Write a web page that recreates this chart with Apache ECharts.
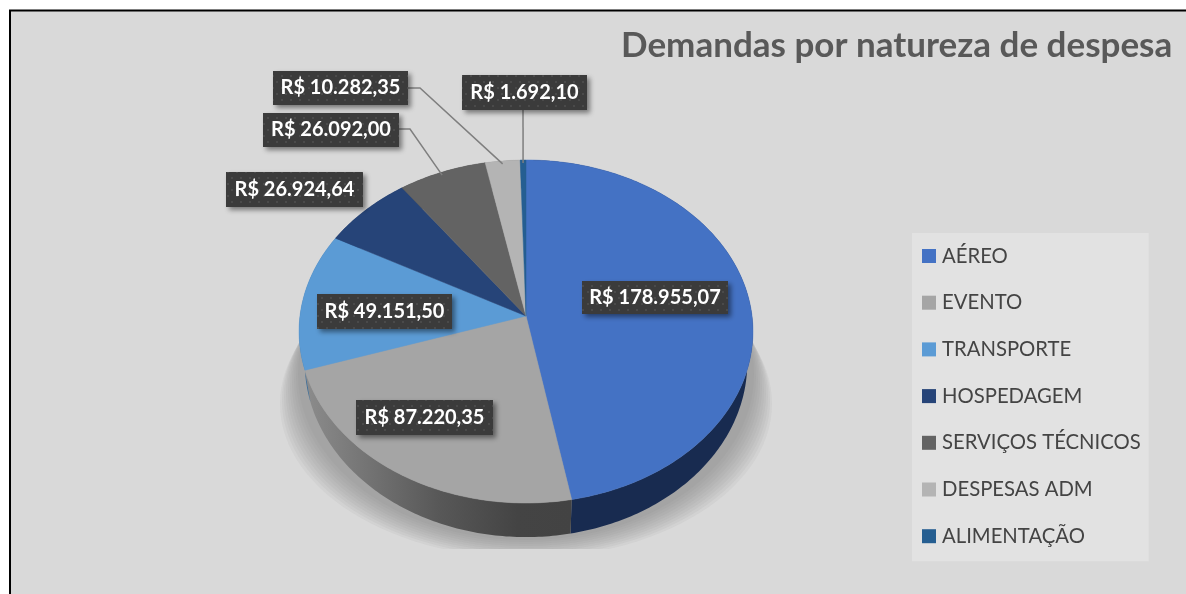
<!DOCTYPE html>
<html>
<head>
<meta charset="utf-8">
<title>Demandas por natureza de despesa</title>
<script src="https://cdn.jsdelivr.net/npm/echarts@6/dist/echarts.min.js"></script>
<style>
    html, body { margin: 0; padding: 0; background: #fff; }
    #chart { width: 1186px; height: 594px; }
</style>
</head>
<body>
<div id="chart"></div>
<script>
var categories = ['AÉREO', 'EVENTO', 'TRANSPORTE', 'HOSPEDAGEM', 'SERVIÇOS TÉCNICOS', 'DESPESAS ADM', 'ALIMENTAÇÃO'];
var values = [178955.07, 87220.35, 49151.50, 26924.64, 26092.00, 10282.35, 1692.10];
var valueLabels = ['R$ 178.955,07', 'R$ 87.220,35', 'R$ 49.151,50', 'R$ 26.924,64', 'R$ 26.092,00', 'R$ 10.282,35', 'R$ 1.692,10'];

var sliceColors = ['#4472c4', '#a5a5a5', '#5b9bd5', '#264478', '#636363', '#b4b4b4', '#255e91'];
var wallColors = ['#182b50', null, '#3f6d96', '#1a2f55', '#444444', '#7c7c7c', '#1a4266'];

// caixas dos rotulos: x, y, largura, altura
var labelBoxes = [
    [582, 281, 146, 33],
    [356, 400, 137, 35],
    [317, 294, 135, 35],
    [226, 172, 137, 35],
    [263, 113, 136, 34],
    [273, 71, 135, 34],
    [462, 75, 125, 35]
];
var leaderStarts = [null, null, null, null, [[399, 129], [410, 129]], [[408, 88], [420, 88]], [[523, 110]]];

// pizza em perspectiva
var pie = { cx: 526, cy: 316, r: 226, k: 170.1, p: 0.0904, depth: 31, bottomScale: 0.975 };

var total = 0;
values.forEach(function (v) { total += v; });

function project(angle, lower) {
    var sx = Math.sin(angle), cy = Math.cos(angle);
    var f = 1 / (1 + pie.p * cy);
    var x = pie.r * sx * f, y = pie.cy - pie.k * cy * f;
    if (lower) {
        x *= pie.bottomScale;
        y += pie.depth * f;
    }
    return [pie.cx + x, y];
}

function arcPoints(start, end, lower) {
    var pts = [], n = Math.max(2, Math.ceil((end - start) / 0.015));
    for (var i = 0; i <= n; i++) {
        pts.push(project(start + (end - start) * i / n, lower));
    }
    return pts;
}

function sliceAngles(index) {
    var before = 0;
    for (var i = 0; i < index; i++) before += values[i];
    return [before / total * Math.PI * 2, (before + values[index]) / total * Math.PI * 2];
}

// textura pontilhada dos rotulos
var tile = document.createElement('canvas');
tile.width = 9;
tile.height = 12;
var tileCtx = tile.getContext('2d');
tileCtx.fillStyle = '#3b3b3b';
tileCtx.fillRect(0, 0, 9, 12);
tileCtx.fillStyle = '#4a4a4a';
tileCtx.fillRect(2, 3, 2, 2);
tileCtx.fillRect(6, 9, 2, 2);

function renderSlice(i, api) {
    var a = sliceAngles(i);
    var mid = (a[0] + a[1]) / 2;
    var top = arcPoints(a[0], a[1], false);
    var bottom = arcPoints(a[0], a[1], true).reverse();
    var wallFill = wallColors[i] || {
        type: 'linear', x: 305, y: 0, x2: 571, y2: 0, global: true,
        colorStops: [{ offset: 0, color: '#8c8c8c' }, { offset: 0.5, color: '#585858' }, { offset: 0.8, color: '#444444' }, { offset: 1, color: '#434343' }]
    };
    var color = api.visual('color');
    var box = labelBoxes[i];
    var children = [
        { type: 'polygon', z2: 1, shape: { points: top.concat(bottom) }, style: { fill: wallFill } },
        { type: 'polygon', z2: 2, shape: { points: [[pie.cx, pie.cy]].concat(top) }, style: { fill: color, stroke: color, lineWidth: 0.5 } },
        {
            type: 'rect', z2: 6, shape: { x: box[0], y: box[1], width: box[2], height: box[3] },
            style: { fill: { image: tile, repeat: 'repeat' }, shadowBlur: 5, shadowOffsetX: 3, shadowOffsetY: 3, shadowColor: 'rgba(0,0,0,0.45)' }
        },
        {
            type: 'text', z2: 7,
            style: {
                text: valueLabels[api.value(0)], x: box[0] + box[2] / 2, y: box[1] + box[3] / 2,
                align: 'center', verticalAlign: 'middle', fill: '#ffffff', font: 'bold 20px Lato'
            }
        }
    ];
    if (leaderStarts[i]) {
        var end = project(mid, false);
        children.push({
            type: 'polyline', z2: 5,
            shape: { points: leaderStarts[i].concat([[end[0], end[1] + 3]]) },
            style: { stroke: '#7f7f7f', lineWidth: 1.5, fill: null }
        });
    }
    return { type: 'group', children: children };
}

// sombra projetada sob a pizza
function renderShadow() {
    var rings = [];
    for (var s = 0; s < 10; s++) {
        var pts = [];
        var rx = 228 + s * 2, ry = 166 - s * 1.3, ey = 374 + s * 3.3;
        for (var t = 0; t < 120; t++) {
            var ang = t / 120 * Math.PI * 2;
            pts.push([526 + rx * Math.sin(ang), ey + ry * Math.cos(ang)]);
        }
        rings.push({
            type: 'polygon', shape: { points: pts },
            style: { fill: 'rgba(128,128,128,0.08)' },
            clipPath: { type: 'rect', shape: { x: 200, y: 300, width: 650, height: 249 } }
        });
    }
    return { type: 'group', children: rings };
}

var series = [{
    type: 'custom',
    name: 'sombra',
    coordinateSystem: 'none',
    silent: true,
    z: 1,
    data: [[0]],
    renderItem: renderShadow
}];
categories.forEach(function (name, i) {
    series.push({
        type: 'custom',
        name: name,
        coordinateSystem: 'none',
        silent: true,
        itemStyle: { color: sliceColors[i] },
        data: [[i]],
        renderItem: function (params, api) {
            return renderSlice(i, api);
        }
    });
});

var chart = echarts.init(document.getElementById('chart'));
chart.setOption({
    animation: false,
    backgroundColor: '#ffffff',
    title: {
        text: 'Demandas por natureza de despesa',
        left: 621,
        top: 28,
        padding: 0,
        textStyle: { fontFamily: 'Lato', fontWeight: 'bold', fontSize: 35, color: '#595959' }
    },
    legend: {
        data: categories,
        orient: 'vertical',
        left: 912,
        top: 233,
        padding: [13, 8, 15, 10],
        backgroundColor: '#e2e2e2',
        icon: 'rect',
        itemWidth: 14,
        itemHeight: 14,
        itemGap: 26.7,
        selectedMode: false,
        textStyle: { fontFamily: 'Lato', fontSize: 20.3, color: '#444444', padding: [0, 0, 0, 1] }
    },
    graphic: [{
        type: 'rect',
        silent: true,
        z: -1,
        shape: { x: 10, y: 10.5, width: 1300, height: 700 },
        style: { fill: '#d9d9d9', stroke: '#000000', lineWidth: 2 }
    }],
    series: series
});
window.addEventListener("resize", function () {
    chart.resize();
});
</script>
</body>
</html>
